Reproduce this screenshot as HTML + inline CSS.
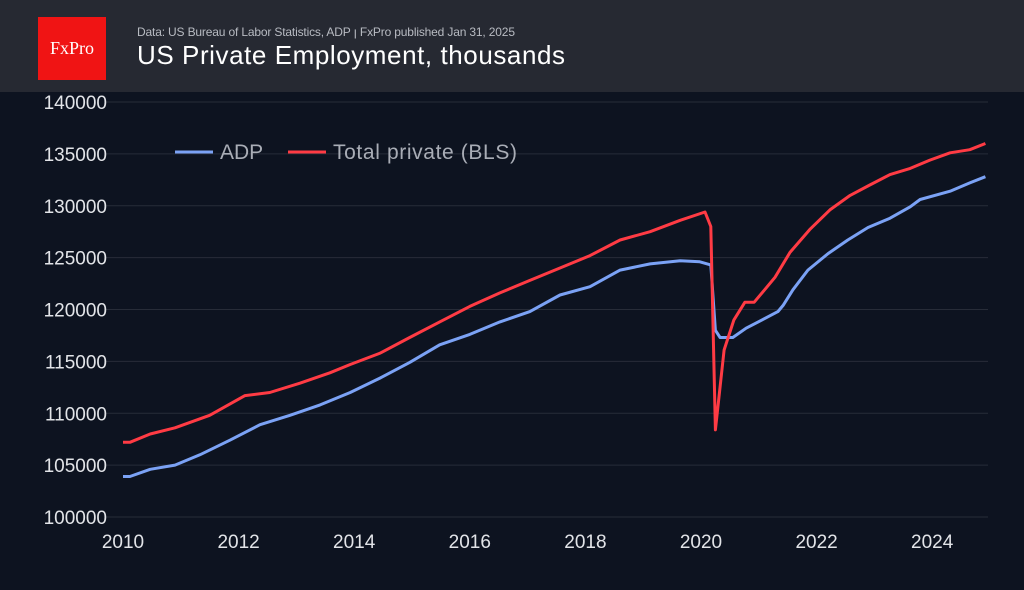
<!DOCTYPE html>
<html><head><meta charset="utf-8"><style>
body{margin:0;background:#0d1320;width:1024px;height:585px;overflow:hidden;font-family:"Liberation Sans",sans-serif}
</style></head><body>
<svg width="1024" height="585" id="svg">
<rect x="0" y="0" width="1024" height="585" fill="#0d1320"/>
<rect x="0" y="0" width="1024" height="92" fill="#262932"/>
<rect x="38" y="17" width="68" height="63" fill="#f01414"/>
<text x="72" y="54" fill="#fff" font-family="Liberation Serif,serif" font-size="18" text-anchor="middle">FxPro</text>
<text x="137" y="36" fill="#b8bbc2" font-size="12" textLength="378">Data: US Bureau of Labor Statistics, ADP  ꞁ  FxPro published Jan 31, 2025</text>
<text x="137" y="64" fill="#ffffff" font-size="26" textLength="428">US Private Employment, thousands</text>
<g id="grid"></g><g id="lines"></g>
<line x1="175" y1="152" x2="213" y2="152" stroke="#7ba2f5" stroke-width="3"/>
<text x="220" y="159" fill="#a9adb6" font-size="21">ADP</text>
<line x1="288" y1="152" x2="326" y2="152" stroke="#ff3b44" stroke-width="3"/>
<text x="333" y="159" fill="#a9adb6" font-size="21" textLength="184">Total private (BLS)</text>
</svg>
<script>
const yTicks=[100000,105000,110000,115000,120000,125000,130000,135000,140000];
const xTicks=[2010,2012,2014,2016,2018,2020,2022,2024];
const blsDates=[0,0.12,0.47,0.9,1.5,2.11,2.54,3.06,3.58,3.93,4.45,4.96,5.48,6.0,6.52,7.04,7.56,8.08,8.6,9.12,9.64,10.07,10.17,10.25,10.4,10.57,10.76,10.92,11.1,11.28,11.54,11.88,12.23,12.58,12.92,13.27,13.62,13.96,14.31,14.65,14.92];
const blsValues=[107200,107200,108000,108600,109800,111700,112000,112900,113900,114700,115800,117300,118800,120300,121600,122800,124000,125200,126700,127500,128600,129400,128000,108400,116100,119000,120700,120700,121900,123100,125500,127700,129600,131000,132000,133000,133600,134400,135100,135400,136000];
const adpDates=[0,0.12,0.47,0.9,1.33,1.85,2.37,2.89,3.41,3.93,4.45,4.96,5.48,6.0,6.52,7.04,7.56,8.08,8.6,9.12,9.64,9.98,10.17,10.25,10.33,10.55,10.78,10.99,11.33,11.42,11.59,11.85,12.2,12.54,12.89,13.27,13.62,13.79,14.31,14.65,14.92];
const adpValues=[103900,103900,104600,105000,106000,107400,108900,109800,110800,112000,113400,114900,116600,117600,118800,119800,121400,122200,123800,124400,124700,124600,124300,118000,117300,117300,118200,118800,119800,120400,121900,123800,125400,126700,127900,128800,129900,130600,131400,132200,132800];
const X0=123,PX=57.8;
function xs(t){return X0+t*PX;}
function ys(v){return 102+(140000-v)/1000*10.375;}
const ns="http://www.w3.org/2000/svg";
const g=document.getElementById('grid'),L=document.getElementById('lines');
yTicks.forEach(v=>{
 const l=document.createElementNS(ns,'line');
 l.setAttribute('x1',105);l.setAttribute('x2',988);l.setAttribute('y1',ys(v));l.setAttribute('y2',ys(v));
 l.setAttribute('stroke','#272c38');l.setAttribute('stroke-width','1');
 
 
 g.appendChild(l);
 const t=document.createElementNS(ns,'text');
 t.setAttribute('x',107);t.setAttribute('y',ys(v)+7);t.setAttribute('text-anchor','end');
 t.setAttribute('fill','#e2e4e8');t.setAttribute('font-size','19');t.textContent=v;
 
 
 g.appendChild(t);
});
xTicks.forEach(y=>{
 const t=document.createElementNS(ns,'text');
 t.setAttribute('x',xs(y-2010));t.setAttribute('y',548);t.setAttribute('text-anchor','middle');
 t.setAttribute('fill','#e2e4e8');t.setAttribute('font-size','19');t.textContent=y;
 
 
 g.appendChild(t);
});
function line(d,v,c,name){
 const p=document.createElementNS(ns,'polyline');
 p.setAttribute('points',d.map((t,i)=>xs(t).toFixed(1)+','+ys(v[i]).toFixed(1)).join(' '));
 p.setAttribute('fill','none');p.setAttribute('stroke',c);p.setAttribute('stroke-width','3');p.setAttribute('stroke-linejoin','round');
 
 
 L.appendChild(p);
}
line(adpDates,adpValues,'#7ba2f5','adp-line');
line(blsDates,blsValues,'#ff3b44','bls-line');
</script>
</body></html>
